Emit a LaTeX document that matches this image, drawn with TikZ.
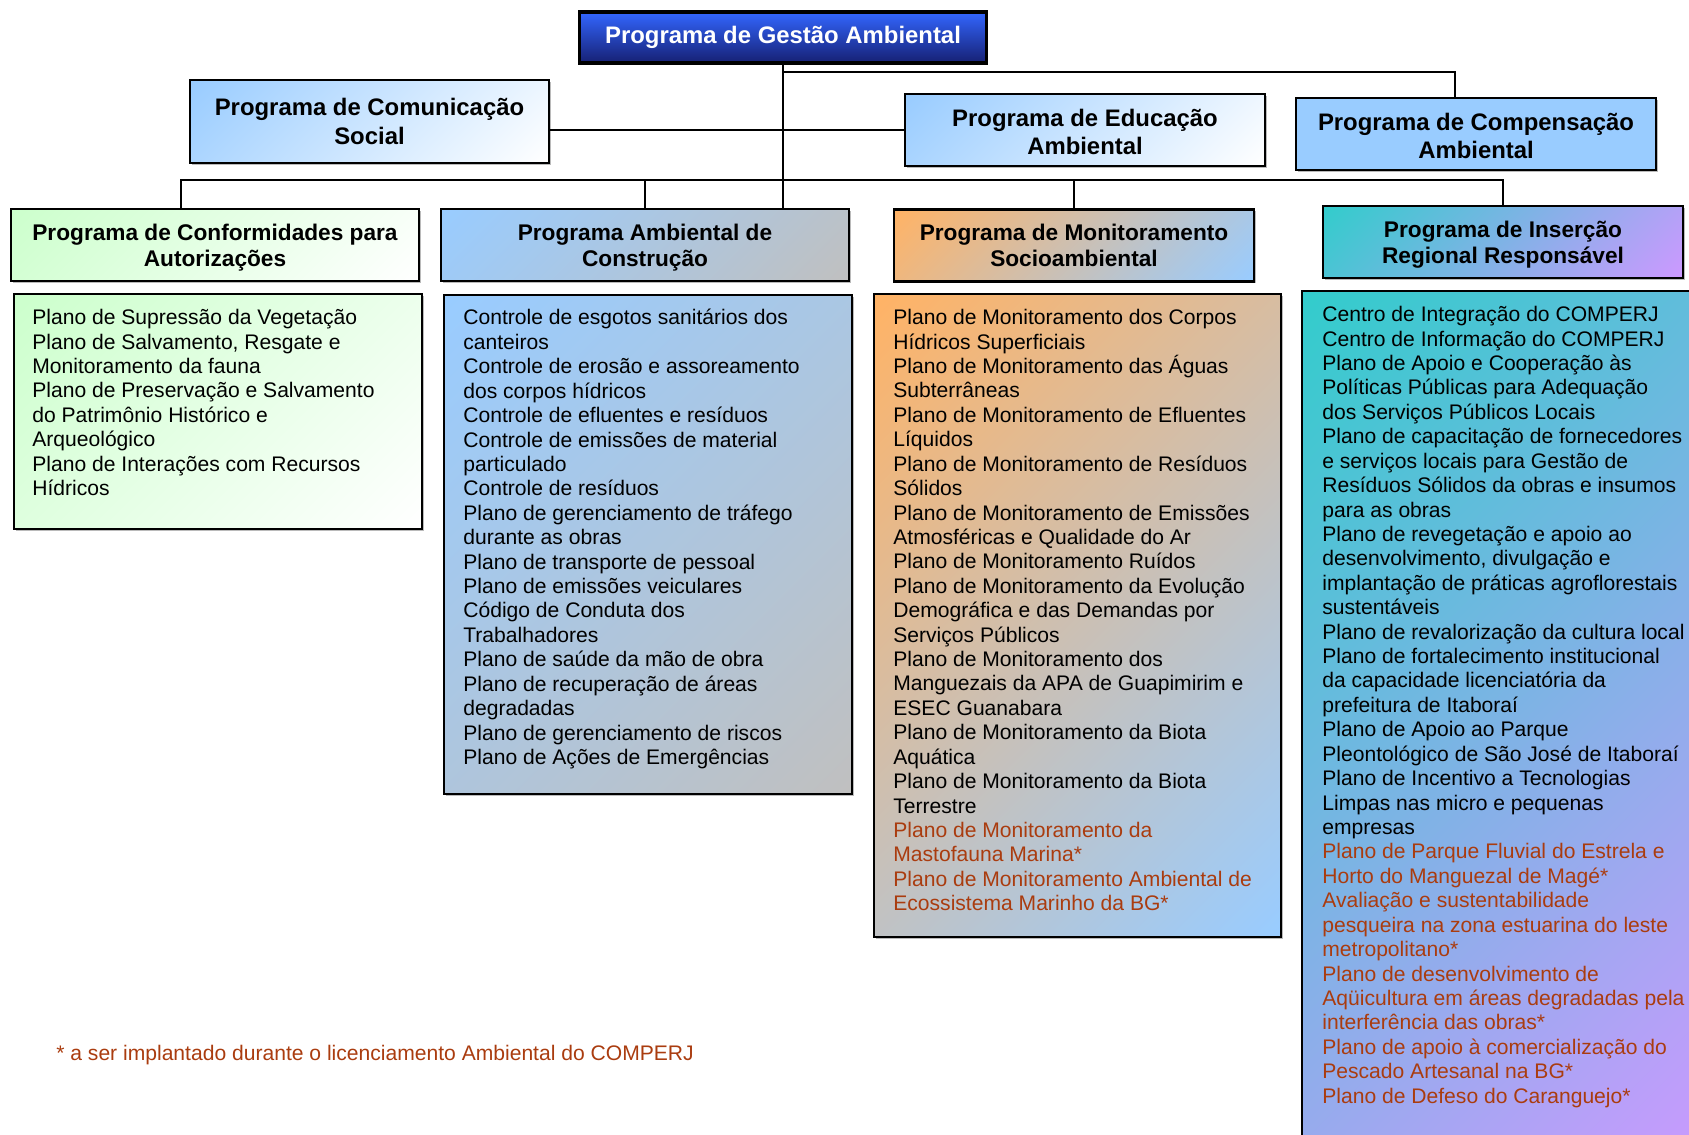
\documentclass[tikz,border=0pt]{standalone}
\usepackage{fontspec}
\setmainfont{Liberation Sans}
\usetikzlibrary{shadows}

\definecolor{hdrblue}{RGB}{51,102,255}
\definecolor{hdrnavy}{RGB}{22,32,115}
\definecolor{skyblue}{RGB}{153,204,255}
\definecolor{palegreen}{RGB}{204,255,204}
\definecolor{silver}{RGB}{192,192,192}
\definecolor{peach}{RGB}{255,179,102}
\definecolor{turq}{RGB}{51,204,204}
\definecolor{lilac}{RGB}{204,153,255}
\definecolor{rust}{RGB}{170,60,15}
\colorlet{shtop}{white}
\colorlet{shbot}{white}

% corner to corner fade
\pgfdeclareverticalshading[shtop,shbot]{diagfade}{100bp}{color(0bp)=(shbot); color(15bp)=(shbot); color(85bp)=(shtop); color(100bp)=(shtop)}

\tikzset{
  box/.style={draw=black, line width=1.3pt, inner sep=0pt, align=center,
    drop shadow={shadow xshift=0.9pt, shadow yshift=-0.9pt, opacity=.45, fill=black!60}},
  diag/.style 2 args={/utils/exec={\colorlet{shtop}{#1}\colorlet{shbot}{#2}},
    shade, shading=diagfade, shading angle=45},
  tophdr/.style={box, line width=2pt, top color=hdrblue, bottom color=hdrnavy,
    text=white, font=\bfseries\fontsize{13.6}{15.5}\selectfont},
  upperhdr/.style={box, font=\bfseries\fontsize{13.6}{15.5}\selectfont},
  lowerhdr/.style={box, font=\bfseries\fontsize{12.9}{14.7}\selectfont},
  bodybox/.style={box, anchor=north west},
  bodytext/.style={anchor=north west, inner sep=0pt, align=left,
    font=\fontsize{12}{13.9}\selectfont},
  link/.style={line width=1.1pt},
}

\begin{document}
\begin{tikzpicture}[x=0.02cm, y=-0.02cm]
\def\u{0.02cm}
\useasboundingbox (0,0) rectangle (1689,1134);
\clip (0,0) rectangle (1689,1134);

% top row
\node[tophdr, minimum width=407*\u, minimum height=51*\u] (gestao) at (783,37.5) {Programa de Gestão Ambiental};
\node[upperhdr, diag={skyblue}{white}, minimum width=359*\u, minimum height=83*\u,
  font=\bfseries\fontsize{13.6}{17}\selectfont] (comunicacao) at (369.5,121.5) {Programa de Comunicação\\Social};
\node[upperhdr, diag={skyblue}{white}, minimum width=360*\u, minimum height=72*\u] (educacao) at (1085,130) {\rule{0pt}{12pt}Programa de Educação\\Ambiental};
\node[upperhdr, fill=skyblue, minimum width=360*\u, minimum height=72*\u] (compensacao) at (1476,134) {\rule{0pt}{12pt}Programa de Compensação\\Ambiental};

% program headers
\node[lowerhdr, diag={palegreen}{white}, minimum width=408*\u, minimum height=72*\u] (confH) at (215,245) {\rule{0pt}{12pt}Programa de Conformidades para\\Autorizações};
\node[lowerhdr, diag={skyblue}{silver}, minimum width=408*\u, minimum height=72*\u] (construcaoH) at (645,245) {\rule{0pt}{12pt}Programa Ambiental de\\Construção};
\node[lowerhdr, diag={peach}{skyblue}, minimum width=360*\u, minimum height=72*\u] (monitorH) at (1074,245.5) {Programa de Monitoramento\\Socioambiental};
\node[lowerhdr, diag={turq}{lilac}, minimum width=360*\u, minimum height=72*\u] (insH) at (1503,242) {\rule{0pt}{12pt}Programa de Inserção\\Regional Responsável};

% connectors
\coordinate (busTop) at (0,72);
\coordinate (busLow) at (0,180);
\draw[link] (gestao.south) -- (gestao.south |- construcaoH.north);
\draw[link] (gestao.south |- busTop) -| ([xshift=-21*\u]compensacao.north);
\draw[link] (educacao.west) -- (educacao.west -| comunicacao.east);
\draw[link] (insH.north) -- (insH.north |- busLow) -| ([xshift=-34*\u]confH.north);
\draw[link] (construcaoH.north) -- (construcaoH.north |- busLow);
\draw[link] (monitorH.north) -- (monitorH.north |- busLow);

% bodies
\node[bodybox, diag={palegreen}{white}, minimum width=408*\u, minimum height=235*\u] (confB) at (13,293) {};
\node[bodybox, diag={skyblue}{silver}, minimum width=408*\u, minimum height=499*\u] (construcaoB) at (443,294) {};
\node[bodybox, diag={peach}{skyblue}, minimum width=407*\u, minimum height=643*\u] (monitorB) at (873,293) {};
\node[bodybox, diag={turq}{lilac}, minimum width=420*\u, minimum height=880*\u] (insB) at (1301,290) {};

\node[bodytext] (confT) at (32,309) {Plano de Supressão da Vegetação\\
Plano de Salvamento, Resgate e\\
Monitoramento da fauna\\
Plano de Preservação e Salvamento\\
do Patrimônio Histórico e\\
Arqueológico\\
Plano de Interações com Recursos\\
Hídricos};

\node[bodytext] (construcaoT) at (463,309) {Controle de esgotos sanitários dos\\
canteiros\\
Controle de erosão e assoreamento\\
dos corpos hídricos\\
Controle de efluentes e resíduos\\
Controle de emissões de material\\
particulado\\
Controle de resíduos\\
Plano de gerenciamento de tráfego\\
durante as obras\\
Plano de transporte de pessoal\\
Plano de emissões veiculares\\
Código de Conduta dos\\
Trabalhadores\\
Plano de saúde da mão de obra\\
Plano de recuperação de áreas\\
degradadas\\
Plano de gerenciamento de riscos\\
Plano de Ações de Emergências};

\node[bodytext] (monitorT) at (893,309) {Plano de Monitoramento dos Corpos\\
Hídricos Superficiais\\
Plano de Monitoramento das Águas\\
Subterrâneas\\
Plano de Monitoramento de Efluentes\\
Líquidos\\
Plano de Monitoramento de Resíduos\\
Sólidos\\
Plano de Monitoramento de Emissões\\
Atmosféricas e Qualidade do Ar\\
Plano de Monitoramento Ruídos\\
Plano de Monitoramento da Evolução\\
Demográfica e das Demandas por\\
Serviços Públicos\\
Plano de Monitoramento dos\\
Manguezais da APA de Guapimirim e\\
ESEC Guanabara\\
Plano de Monitoramento da Biota\\
Aquática\\
Plano de Monitoramento da Biota\\
Terrestre\\
\textcolor{rust}{Plano de Monitoramento da}\\
\textcolor{rust}{Mastofauna Marina*}\\
\textcolor{rust}{Plano de Monitoramento Ambiental de}\\
\textcolor{rust}{Ecossistema Marinho da BG*}};

\node[bodytext] (insT) at (1322,306) {Centro de Integração do COMPERJ\\
Centro de Informação do COMPERJ\\
Plano de Apoio e Cooperação às\\
Políticas Públicas para Adequação\\
dos Serviços Públicos Locais\\
Plano de capacitação de fornecedores\\
e serviços locais para Gestão de\\
Resíduos Sólidos da obras e insumos\\
para as obras\\
Plano de revegetação e apoio ao\\
desenvolvimento, divulgação e\\
implantação de práticas agroflorestais\\
sustentáveis\\
Plano de revalorização da cultura local\\
Plano de fortalecimento institucional\\
da capacidade licenciatória da\\
prefeitura de Itaboraí\\
Plano de Apoio ao Parque\\
Pleontológico de São José de Itaboraí\\
Plano de Incentivo a Tecnologias\\
Limpas nas micro e pequenas\\
empresas\\
\textcolor{rust}{Plano de Parque Fluvial do Estrela e}\\
\textcolor{rust}{Horto do Manguezal de Magé*}\\
\textcolor{rust}{Avaliação e sustentabilidade}\\
\textcolor{rust}{pesqueira na zona estuarina do leste}\\
\textcolor{rust}{metropolitano*}\\
\textcolor{rust}{Plano de desenvolvimento de}\\
\textcolor{rust}{Aqüicultura em áreas degradadas pela}\\
\textcolor{rust}{interferência das obras*}\\
\textcolor{rust}{Plano de apoio à comercialização do}\\
\textcolor{rust}{Pescado Artesanal na BG*}\\
\textcolor{rust}{Plano de Defeso do Caranguejo*}};

% footnote
\node[anchor=west, inner sep=0pt, text=rust, font=\fontsize{12}{13.9}\selectfont] (nota) at (56,1055) {* a ser implantado durante o licenciamento Ambiental do COMPERJ};

\end{tikzpicture}
\end{document}
